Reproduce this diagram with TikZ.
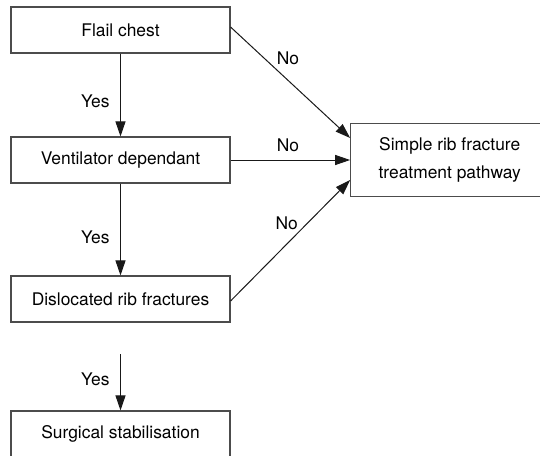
\documentclass[tikz,border=0pt]{standalone}
\usepackage{fontspec}
\setmainfont{TeX Gyre Heros}
\usetikzlibrary{arrows.meta}
\begin{document}
\begin{tikzpicture}[x=1pt,y=-1pt,
  box/.style={draw=black!70,line width=1.1pt,rectangle,inner sep=0pt,
    minimum width=219pt,minimum height=46pt,
    font=\fontsize{17.4}{28}\selectfont,align=center},
  lbl/.style={inner sep=0pt,font=\fontsize{17.4}{20}\selectfont},
  arr/.style={draw=black!90,line width=1pt,-{Triangle[length=15pt,width=10pt]}}]
\useasboundingbox (0,0) rectangle (540,455);
\clip (0,0) rectangle (540,455);
\node[box] (flail) at (120.5,30) {Flail chest};
\node[box] (vent) at (120.5,160) {Ventilator dependant};
\node[box] (disl) at (120.5,299) {Dislocated rib fractures};
\node[box] (surg) at (120.5,434) {Surgical stabilisation};
\node[box,minimum width=198pt,minimum height=73pt] (simple) at (449.7,160)
  {Simple rib fracture\\treatment pathway};
\coordinate (ystart) at (120.5,354);
\draw[arr] (flail) -- (vent);
\draw[arr] (vent) -- (disl);
\draw[arr] (ystart) -- (surg);
\draw[arr] ([yshift=3pt]flail.east) -- ([yshift=22pt]simple.west);
\draw[arr] (vent.east) -- (simple.west);
\draw[arr] ([yshift=-2pt]disl.east) -- ([yshift=-20pt]simple.west);
\node[lbl] (yes1) at (95.3,101) {Yes};
\node[lbl] (yes2) at (95.3,237) {Yes};
\node[lbl] (yes3) at (95.3,379) {Yes};
\node[lbl] (no1) at (288,58) {No};
\node[lbl] (no2) at (288,145) {No};
\node[lbl] (no3) at (286.7,223.3) {No};
\end{tikzpicture}
\end{document}
